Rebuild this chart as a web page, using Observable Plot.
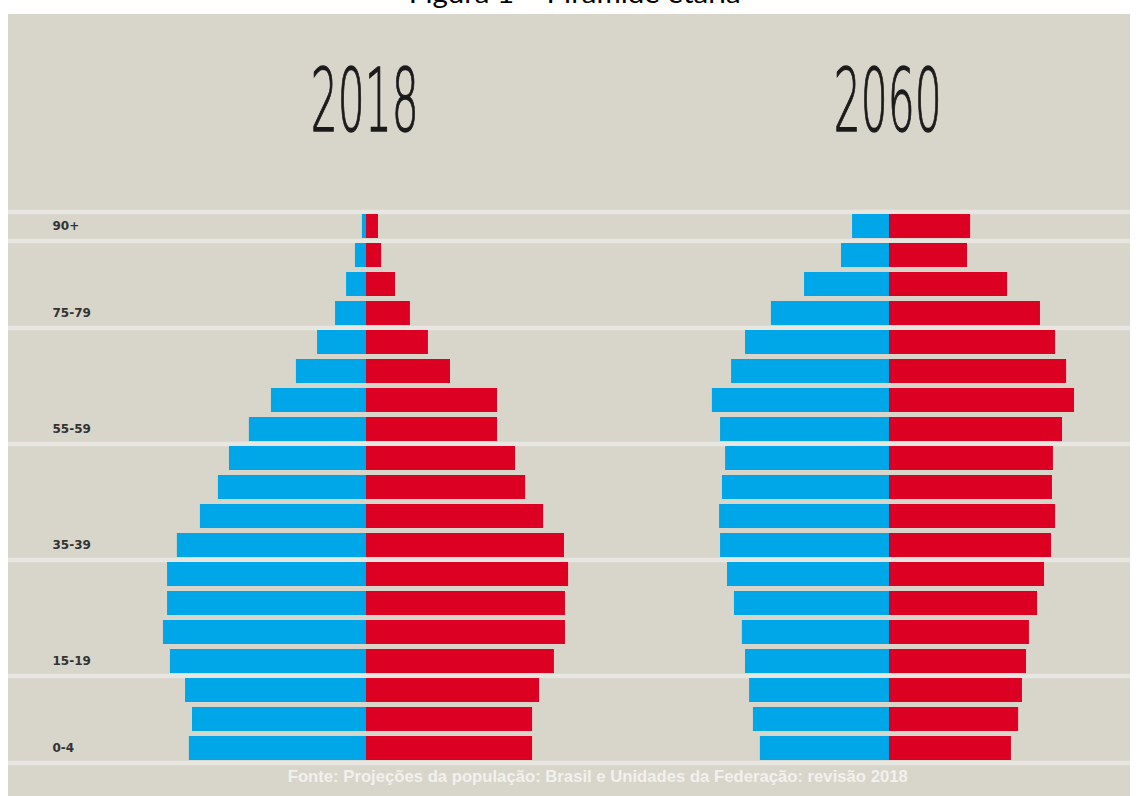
<!DOCTYPE html>
<html>
<head>
<meta charset="utf-8">
<script src="https://cdn.jsdelivr.net/npm/d3@7"></script>
<script src="https://cdn.jsdelivr.net/npm/@observablehq/plot@0.6"></script>
<style>
  body { margin: 0; background: #fff; width: 1137px; height: 796px; overflow: hidden; position: relative; }
  #title { position: absolute; left: 0; width: 1150px; top: -22px; height: 30px; line-height: 30px; text-align: center; white-space: nowrap; }
  #title span { display: inline-block; font-size: 27px; color: #000; font-family: Lato, "Open Sans", "Noto Sans", sans-serif; transform-origin: 50% 50%; }
  #panel { position: absolute; left: 8px; top: 14px; width: 1122px; height: 782px; background: #d8d5cb; overflow: hidden; }
  #charts { position: absolute; left: 0; top: 0; display: flex; }
  #charts svg { display: block; }
  .year { position: absolute; top: 43px; width: 300px; text-align: center; line-height: 89px; height: 89px; }
  .year span { display: inline-block; font-family: "DejaVu Sans", sans-serif; font-weight: 200;
               font-size: 87px; line-height: 89px; color: #1b1b1b; transform-origin: 50% 50%;
               -webkit-text-stroke: 1.3px #1b1b1b; }
  #source { position: absolute; top: 753px; left: 283px; width: 600px; text-align: center; white-space: nowrap; }
  #source span { display: inline-block; font-family: "Liberation Sans", Arial, sans-serif; font-size: 16.5px; font-weight: bold;
                 color: #f2f1ed; transform-origin: 50% 50%; }
</style>
</head>
<body>
<div id="title"><span>Figura 1 – Pirâmide etária</span></div>
<div id="panel">
  <div id="charts"></div>
  <div class="year" id="y0"><span></span></div>
  <div class="year" id="y1"><span></span></div>
  <div id="source"><span>Fonte: Projeções da população: Brasil e Unidades da Federação: revisão 2018</span></div>
</div>
<script>
// ---- data (millions of people) ----
const ages = ["0-4","5-9","10-14","15-19","20-24","25-29","30-34","35-39","40-44","45-49",
              "50-54","55-59","60-64","65-69","70-74","75-79","80-84","85-89","90+"];
const labelAges = ["0-4","15-19","35-39","55-59","75-79","90+"];
const years = ["2018","2060"];

const men2018   = [7.38,7.25,7.54,8.17,8.46,8.29,8.29,7.88,6.92,6.17,5.71,4.88,3.96,2.92,2.04,1.29,0.83,0.46,0.17];
const women2018 = [6.92,6.92,7.21,7.83,8.29,8.29,8.42,8.25,7.38,6.63,6.21,5.46,5.46,3.50,2.58,1.83,1.21,0.63,0.50];
const men2060   = [5.38,5.67,5.83,6.00,6.13,6.46,6.75,7.04,7.08,6.96,6.83,7.04,7.38,6.58,6.00,4.92,3.54,2.00,1.54];
const women2060 = [5.08,5.38,5.54,5.71,5.83,6.17,6.46,6.75,6.92,6.79,6.83,7.21,7.71,7.38,6.92,6.29,4.92,3.25,3.38];

// ---- styling / layout ----
const BLUE = "#00a7e8", RED = "#dc0023", LINE = "#e8e6e0";
const H = 782, MT = 196, MB = 32;
const step = (H - MT - MB) / ages.length;
const PX = 24; // pixels per million

function pyramid(men, women, width, center, withLabels) {
  const rows = ages.map((a, i) => ({age: a, m: men[i], f: women[i]}));
  return Plot.plot({
    width, height: H, marginTop: MT, marginBottom: MB, marginLeft: 0, marginRight: 0,
    style: {background: "transparent", overflow: "visible"},
    x: {domain: [-center / PX, (width - center) / PX], axis: null},
    y: {type: "band", domain: ages.slice().reverse(), paddingInner: 0.16, paddingOuter: 0.08, axis: null},
    marks: [
      Plot.ruleY(labelAges, {y: d => d, dy: step / 2, stroke: LINE, strokeWidth: 4.5}),
      Plot.ruleY([ages[ages.length - 1]], {y: d => d, dy: -step / 2, stroke: LINE, strokeWidth: 4.5}),
      Plot.barX(rows, {y: "age", x1: 0, x2: d => -d.m, fill: BLUE}),
      Plot.barX(rows, {y: "age", x1: 0, x2: "f", fill: RED}),
      withLabels ? Plot.text(labelAges, {y: d => d, frameAnchor: "left", dx: 44, textAnchor: "start",
        fontSize: 12, fontWeight: "bold", fill: "#333", fontFamily: "DejaVu Sans, sans-serif"}) : null
    ]
  });
}

const charts = document.getElementById("charts");
charts.appendChild(pyramid(men2018, women2018, 620, 358, true));
charts.appendChild(pyramid(men2060, women2060, 502, 261, false));

// year headings, condensed to the picture's width
const centers = [357, 880];
years.forEach((y, i) => {
  const div = document.getElementById("y" + i);
  div.style.left = (centers[i] - 150) + "px";
  const span = div.querySelector("span");
  span.textContent = y;
  const w = span.getBoundingClientRect().width;
  span.style.transform = `scaleX(${108 / w})`;
});
const src = document.querySelector("#source span");
src.style.transform = `scaleX(${620 / src.getBoundingClientRect().width})`;
const ttl = document.querySelector("#title span");
ttl.style.transform = `scaleX(${332 / ttl.getBoundingClientRect().width})`;
</script>
</body>
</html>
